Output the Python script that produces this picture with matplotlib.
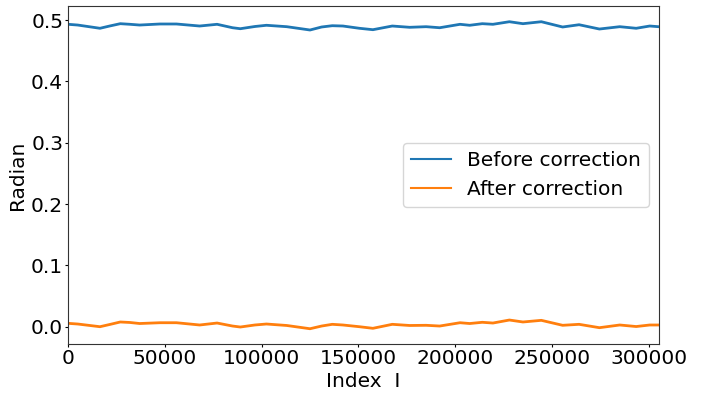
import matplotlib
matplotlib.use("Agg")
import matplotlib.pyplot as plt

index = [0, 5000, 16500, 21500, 27000, 32000, 37000, 47500, 56000, 68000,
         77000, 85000, 89000, 96500, 102500, 113000, 125000, 131000, 136500, 142000,
         150500, 157500, 167500, 176500, 185000, 192000, 202500, 207500, 214000, 219500,
         228000, 235000, 244500, 255500, 264000, 274500, 285000, 293500, 300500, 305000]

before = [0.4930, 0.4918, 0.4865, 0.4902, 0.4940, 0.4930, 0.4918, 0.4935, 0.4935, 0.4902,
          0.4930, 0.4874, 0.4858, 0.4894, 0.4914, 0.4891, 0.4837, 0.4886, 0.4907, 0.4902,
          0.4865, 0.4842, 0.4902, 0.4881, 0.4891, 0.4874, 0.4930, 0.4914, 0.4940, 0.4930,
          0.4972, 0.4940, 0.4972, 0.4886, 0.4923, 0.4853, 0.4891, 0.4865, 0.4902, 0.4891]

after = [0.0055, 0.0044, 0.0000, 0.0036, 0.0077, 0.0069, 0.0052, 0.0065, 0.0065, 0.0028,
         0.0060, 0.0011, -0.0005, 0.0028, 0.0044, 0.0020, -0.0033, 0.0011, 0.0039, 0.0028,
         0.0000, -0.0026, 0.0039, 0.0020, 0.0023, 0.0011, 0.0065, 0.0052, 0.0072, 0.0060,
         0.0109, 0.0077, 0.0104, 0.0023, 0.0039, -0.0016, 0.0028, 0.0003, 0.0028, 0.0028]

labels = ["Before correction", "After correction"]

fig = plt.figure(figsize=(7.13, 3.94), dpi=100)
ax = fig.add_axes([0.0954, 0.1261, 0.8289, 0.8594])
ax.plot(index, before, color="#1f77b4", lw=2.0, label=labels[0])
ax.plot(index, after, color="#ff7f0e", lw=2.0, label=labels[1])
ax.set_xlim(0, 305300)
ax.set_ylim(-0.0287, 0.5233)
ax.set_xticks([0, 50000, 100000, 150000, 200000, 250000, 300000])
ax.set_yticks([0.0, 0.1, 0.2, 0.3, 0.4, 0.5])
ax.tick_params(labelsize=14.5, length=2, pad=1.5)
for s in ax.spines.values():
    s.set_color("#333333")
ax.set_xlabel("Index  I", fontsize=14.5, labelpad=3)
ax.set_ylabel("Radian", fontsize=14.5, labelpad=3)
leg = ax.legend(loc="center right", fontsize=14.5)
for line in leg.get_lines():
    line.set_linewidth(1.5)
fig.savefig("out.png", dpi=100)
